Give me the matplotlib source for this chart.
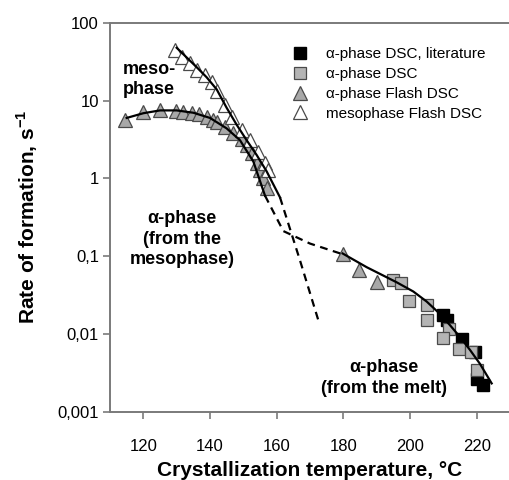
import matplotlib
matplotlib.use("Agg")
import matplotlib.pyplot as plt
from matplotlib.ticker import FixedLocator, FixedFormatter

plt.rcParams["font.family"] = ["Liberation Sans", "DejaVu Sans"]
plt.rcParams["mathtext.fontset"] = "custom"
plt.rcParams["mathtext.rm"] = "Liberation Sans"
plt.rcParams["mathtext.bf"] = "Liberation Sans:bold"

# Data (temperature in degC, rate in 1/s)
lit_T = [210.0, 211.0, 215.5, 219.5, 220.0, 222.0]
lit_v = [0.0173, 0.0152, 0.0086, 0.0058, 0.0026, 0.0022]

dsc_T = [195.0, 197.2, 199.8, 205.2, 205.0, 211.8, 209.8, 214.8, 218.2, 220.0]
dsc_v = [0.0488, 0.045, 0.0264, 0.0232, 0.0149, 0.0116, 0.0089, 0.0064, 0.0058, 0.0034]

alpha_flash_T = [114.5, 119.8, 125.0, 129.8, 132.0, 134.5, 136.8, 139.0, 141.0, 142.0,
                 144.5, 146.9, 149.5, 151.0, 152.5, 154.0, 155.0, 155.9, 157.0,
                 179.8, 184.8, 190.0]
alpha_flash_v = [5.7, 7.2, 7.6, 7.4, 7.2, 7.0, 6.7, 6.1, 5.6, 5.3,
                 4.6, 3.8, 3.2, 2.7, 2.1, 1.6, 1.3, 1.0, 0.75,
                 0.108, 0.067, 0.046]

meso_flash_T = [129.5, 131.5, 134.0, 136.0, 138.5, 140.5, 142.0, 144.5, 146.5,
                149.5, 152.0, 154.4, 156.5, 157.4]
meso_flash_v = [44.9, 36.8, 30.5, 24.8, 21.4, 17.5, 13.2, 8.8, 6.2,
                4.2, 3.1, 2.2, 1.57, 1.28]

# fitted curves
meso_fit_T = [130, 133, 136, 139, 142, 145, 148, 151, 154, 157, 161]
meso_fit_v = [48, 36, 27, 20, 14, 8.1, 4.9, 3.1, 2.0, 1.23, 0.57]
meso_dash_T = [161, 167, 172.7]
meso_dash_v = [0.57, 0.088, 0.014]

alpha_meso_fit_T = [115, 120, 125, 130, 135, 140, 145, 149, 153, 156.5]
alpha_meso_fit_v = [6.0, 6.9, 7.5, 7.5, 7.0, 6.0, 4.4, 3.1, 1.65, 0.6]
alpha_dash_T = [156.5, 162, 170, 180]
alpha_dash_v = [0.6, 0.21, 0.145, 0.105]

melt_fit_T = [179.8, 187, 191, 196, 201, 205, 209, 212, 215, 218, 221, 224.5]
melt_fit_v = [0.108, 0.072, 0.059, 0.046, 0.035, 0.026, 0.018, 0.0129, 0.0091,
              0.0062, 0.0041, 0.0023]

x_ticks = [120, 140, 160, 180, 200, 220]
y_ticks = [0.001, 0.01, 0.1, 1, 10, 100]
y_tick_labels = ["0,001", "0,01", "0,1", "1", "10", "100"]

fig = plt.figure(figsize=(5.1, 4.8), dpi=100)
ax = fig.add_axes([110 / 510, 68.5 / 480, 400 / 510, 388.5 / 480])
ax.set_yscale("log")

edge = "#4a4a4a"
ax.plot(lit_T, lit_v, ls="none", marker="s", ms=8.5, mfc="black", mec="black",
        label="α-phase DSC, literature", zorder=2)
ax.plot(dsc_T, dsc_v, ls="none", marker="s", ms=8.5, mfc="#b4b4b4", mec=edge, mew=0.9,
        label="α-phase DSC", zorder=2)
ax.plot(alpha_flash_T, alpha_flash_v, ls="none", marker="^", ms=9.5, mfc="#a8a8a8",
        mec=edge, mew=0.9, label="α-phase Flash DSC", zorder=2)
ax.plot(meso_flash_T, meso_flash_v, ls="none", marker="^", ms=9.5, mfc="white",
        mec=edge, mew=0.9, label="mesophase Flash DSC", zorder=2)

ax.plot(meso_fit_T, meso_fit_v, color="black", lw=1.6, zorder=3)
ax.plot(alpha_meso_fit_T, alpha_meso_fit_v, color="black", lw=1.6, zorder=3)
ax.plot(melt_fit_T, melt_fit_v, color="black", lw=1.6, zorder=3)
ax.plot(meso_dash_T, meso_dash_v, color="black", lw=1.6, ls=(0, (3.5, 2.5)), zorder=3)
ax.plot(alpha_dash_T, alpha_dash_v, color="black", lw=1.6, ls=(0, (3.5, 2.5)), zorder=3)

ax.set_xlim(110, 230)
ax.set_ylim(0.001, 100)
ax.xaxis.set_major_locator(FixedLocator(x_ticks))
ax.yaxis.set_major_locator(FixedLocator(y_ticks))
ax.yaxis.set_major_formatter(FixedFormatter(y_tick_labels))
ax.yaxis.set_minor_locator(FixedLocator([]))

spine_col = "#7a7a7a"
for side in ["left", "bottom", "top"]:
    ax.spines[side].set_color(spine_col)
    ax.spines[side].set_linewidth(1.4)
ax.spines["right"].set_visible(False)
ax.tick_params(axis="x", direction="out", length=5, width=1.2, color=spine_col,
               labelsize=12, pad=15)
ax.tick_params(axis="y", direction="out", length=5, width=1.2, color=spine_col,
               labelsize=12, pad=3)

ax.set_xlabel("Crystallization temperature, °C", fontsize=15, fontweight="bold")
ax.set_ylabel("Rate of formation, s$^{\\mathbf{-1}}$", fontsize=15, fontweight="bold")
ax.xaxis.set_label_coords(0.5, -0.127)
ax.yaxis.set_label_coords(-0.175, 0.5)

ax.text(113.9, 18.7, "meso-\nphase", fontsize=13, fontweight="bold", ha="left",
        va="center", linespacing=1.25)
ax.text(131.6, 0.165, "α-phase\n(from the\nmesophase)", fontsize=13, fontweight="bold",
        ha="center", va="center", linespacing=1.25)
ax.text(192.3, 0.0027, "α-phase\n(from the melt)", fontsize=13, fontweight="bold",
        ha="center", va="center", linespacing=1.25)

ax.legend(loc="upper left", bbox_to_anchor=(0.456, 0.9375), frameon=False,
          fontsize=11, handlelength=1.0, handletextpad=1.2, labelspacing=0.38,
          borderpad=0, borderaxespad=0, numpoints=1)

fig.savefig("out.png", dpi=100)
